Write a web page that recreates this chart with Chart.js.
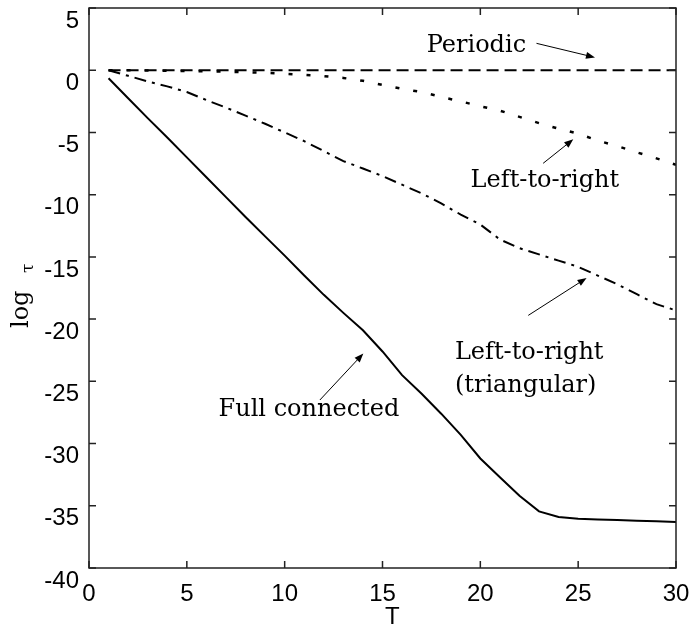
<!DOCTYPE html>
<html>
<head>
<meta charset="utf-8">
<script src="https://cdn.jsdelivr.net/npm/chart.js@4/dist/chart.umd.min.js"></script>
<style>
  html, body { margin: 0; padding: 0; background: #fff; }
</style>
</head>
<body>
<canvas id="chart" width="694" height="630"></canvas>
<script>
// T values (model length)
const T = [1, 2, 3, 4, 5, 6, 7, 8, 9, 10, 11, 12, 13, 14, 15,
           16, 17, 18, 19, 20, 21, 22, 23, 24, 25, 26, 27, 28, 29, 30]

// log tau
const periodic = [0, 0, 0, 0, 0, 0, 0, 0, 0, 0, 0, 0, 0, 0, 0,
                  0, 0, 0, 0, 0, 0, 0, 0, 0, 0, 0, 0, 0, 0, 0]
const leftToRight = [0, 0, -0.02, -0.04, -0.06, -0.09, -0.12, -0.16, -0.21, -0.28,
                     -0.37, -0.47, -0.62, -0.85, -1.18, -1.5, -1.75, -2.15, -2.5, -2.9,
                     -3.25, -3.75, -4.25, -4.7, -5.1, -5.65, -6.1, -6.6, -7.08, -7.6]
const triangular = [0, -0.45, -0.9, -1.3, -1.75, -2.4, -3.0, -3.65, -4.3, -5.0,
                    -5.7, -6.5, -7.3, -7.9, -8.5, -9.2, -9.9, -10.7, -11.6, -12.4,
                    -13.6, -14.3, -14.8, -15.3, -15.8, -16.5, -17.2, -18.0, -18.8, -19.3]
const fullConnected = [-0.65, -2.25, -3.85, -5.4, -7.0, -8.6, -10.2, -11.8, -13.35, -14.9,
                       -16.5, -18.05, -19.5, -20.9, -22.6, -24.5, -26.0, -27.6, -29.3, -31.2,
                       -32.7, -34.2, -35.45, -35.9, -36.05, -36.1, -36.15, -36.2, -36.25, -36.3]

const xTicks = [0, 5, 10, 15, 20, 25, 30]
const yTicks = [-40, -35, -30, -25, -20, -15, -10, -5, 0, 5]

const pts = ys => T.map((t, i) => ({ x: t, y: ys[i] }))

const SERIF = '"DejaVu Serif", serif'
const SANS = '"Liberation Sans", Arial, sans-serif'

// text labels with arrows, in data units
const notes = [
  { lines: ['Periodic'], x: 19.8, y: 2.0, align: 'center' },
  { lines: ['Left-to-right'], x: 23.3, y: -8.9, align: 'center' },
  { lines: ['Left-to-right', '(triangular)'], x: 18.7, y: -22.7, align: 'left' },
  { lines: ['Full connected'], x: 11.24, y: -27.3, align: 'center' }
]
const arrows = [
  { from: [22.87, 2.16], to: [25.86, 1.03] },
  { from: [23.21, -7.48], to: [24.75, -5.55] },
  { from: [22.45, -19.7], to: [25.43, -16.7] },
  { from: [11.8, -26.5], to: [14.02, -22.76] }
]

const frame = {
  id: 'frame',
  afterDatasetsDraw(chart) {
    const { ctx, chartArea: a, scales: { x, y } } = chart
    ctx.save()
    ctx.strokeStyle = '#222'
    ctx.lineWidth = 1.5
    ctx.strokeRect(a.left, a.top, a.right - a.left, a.bottom - a.top)
    ctx.beginPath()
    for (let v of xTicks) {
      const px = x.getPixelForValue(v)
      ctx.moveTo(px, a.bottom); ctx.lineTo(px, a.bottom - 7)
      ctx.moveTo(px, a.top); ctx.lineTo(px, a.top + 7)
    }
    for (let v of yTicks) {
      const py = y.getPixelForValue(v)
      ctx.moveTo(a.left, py); ctx.lineTo(a.left + 7, py)
      ctx.moveTo(a.right, py); ctx.lineTo(a.right - 7, py)
    }
    ctx.stroke()

    // annotations
    ctx.fillStyle = '#000'
    ctx.font = '24px ' + SERIF
    ctx.textBaseline = 'middle'
    for (let n of notes) {
      ctx.textAlign = n.align
      n.lines.forEach((s, i) => {
        ctx.fillText(s, x.getPixelForValue(n.x), y.getPixelForValue(n.y) + i * 33)
      })
    }
    ctx.strokeStyle = '#000'
    ctx.lineWidth = 1
    for (let ar of arrows) {
      const x0 = x.getPixelForValue(ar.from[0]), y0 = y.getPixelForValue(ar.from[1])
      const x1 = x.getPixelForValue(ar.to[0]), y1 = y.getPixelForValue(ar.to[1])
      const ang = Math.atan2(y1 - y0, x1 - x0)
      ctx.beginPath()
      ctx.moveTo(x0, y0); ctx.lineTo(x1 - 6 * Math.cos(ang), y1 - 6 * Math.sin(ang))
      ctx.stroke()
      ctx.beginPath()
      ctx.moveTo(x1, y1)
      ctx.lineTo(x1 - 9 * Math.cos(ang) + 3.5 * Math.sin(ang), y1 - 9 * Math.sin(ang) - 3.5 * Math.cos(ang))
      ctx.lineTo(x1 - 9 * Math.cos(ang) - 3.5 * Math.sin(ang), y1 - 9 * Math.sin(ang) + 3.5 * Math.cos(ang))
      ctx.closePath()
      ctx.fill()
    }

    // axis titles
    ctx.font = '24px ' + SANS
    ctx.textAlign = 'center'
    ctx.fillText('T', x.getPixelForValue(15.5), 617)

    ctx.translate(28, 328)
    ctx.rotate(-Math.PI / 2)
    ctx.textAlign = 'left'
    ctx.textBaseline = 'alphabetic'
    ctx.font = '24px ' + SERIF
    ctx.fillText('log', 0, 0)
    ctx.font = '17px ' + SERIF
    ctx.fillText('τ', 55, 5)
    ctx.restore()
  }
}

const ctx = document.getElementById('chart')
new Chart(ctx, {
  type: 'line',
  data: {
    datasets: [
      { label: 'Periodic', data: pts(periodic), borderColor: '#000', borderWidth: 2, borderDash: [12, 6] },
      { label: 'Left-to-right', data: pts(leftToRight), borderColor: '#000', borderWidth: 2.5, borderDash: [4, 14] },
      { label: 'Left-to-right (triangular)', data: pts(triangular), borderColor: '#000', borderWidth: 2, borderDash: [12, 6, 3, 6] },
      { label: 'Full connected', data: pts(fullConnected), borderColor: '#000', borderWidth: 2 }
    ]
  },
  options: {
    responsive: false,
    animation: false,
    layout: { padding: { left: 0, right: 18, top: 8, bottom: 0 } },
    elements: { point: { radius: 0 }, line: { tension: 0 } },
    plugins: { legend: { display: false }, tooltip: { enabled: false } },
    scales: {
      x: {
        type: 'linear', min: 0, max: 30,
        grid: { display: false },
        border: { display: false },
        afterBuildTicks: s => { s.ticks = xTicks.map(v => ({ value: v })) },
        ticks: { color: '#000', font: { family: SANS, size: 24 }, padding: 4, maxRotation: 0 },
        afterFit: s => { s.height = 62; s.paddingLeft = 0; s.paddingRight = 0 }
      },
      y: {
        type: 'linear', min: -40, max: 5,
        grid: { display: false },
        border: { display: false },
        afterBuildTicks: s => { s.ticks = yTicks.map(v => ({ value: v })) },
        ticks: { color: '#000', font: { family: SANS, size: 24 }, padding: 2, labelOffset: 13 },
        afterFit: s => { s.width = 89; s.paddingTop = 0; s.paddingBottom = 0 }
      }
    }
  },
  plugins: [frame]
})
</script>
</body>
</html>
